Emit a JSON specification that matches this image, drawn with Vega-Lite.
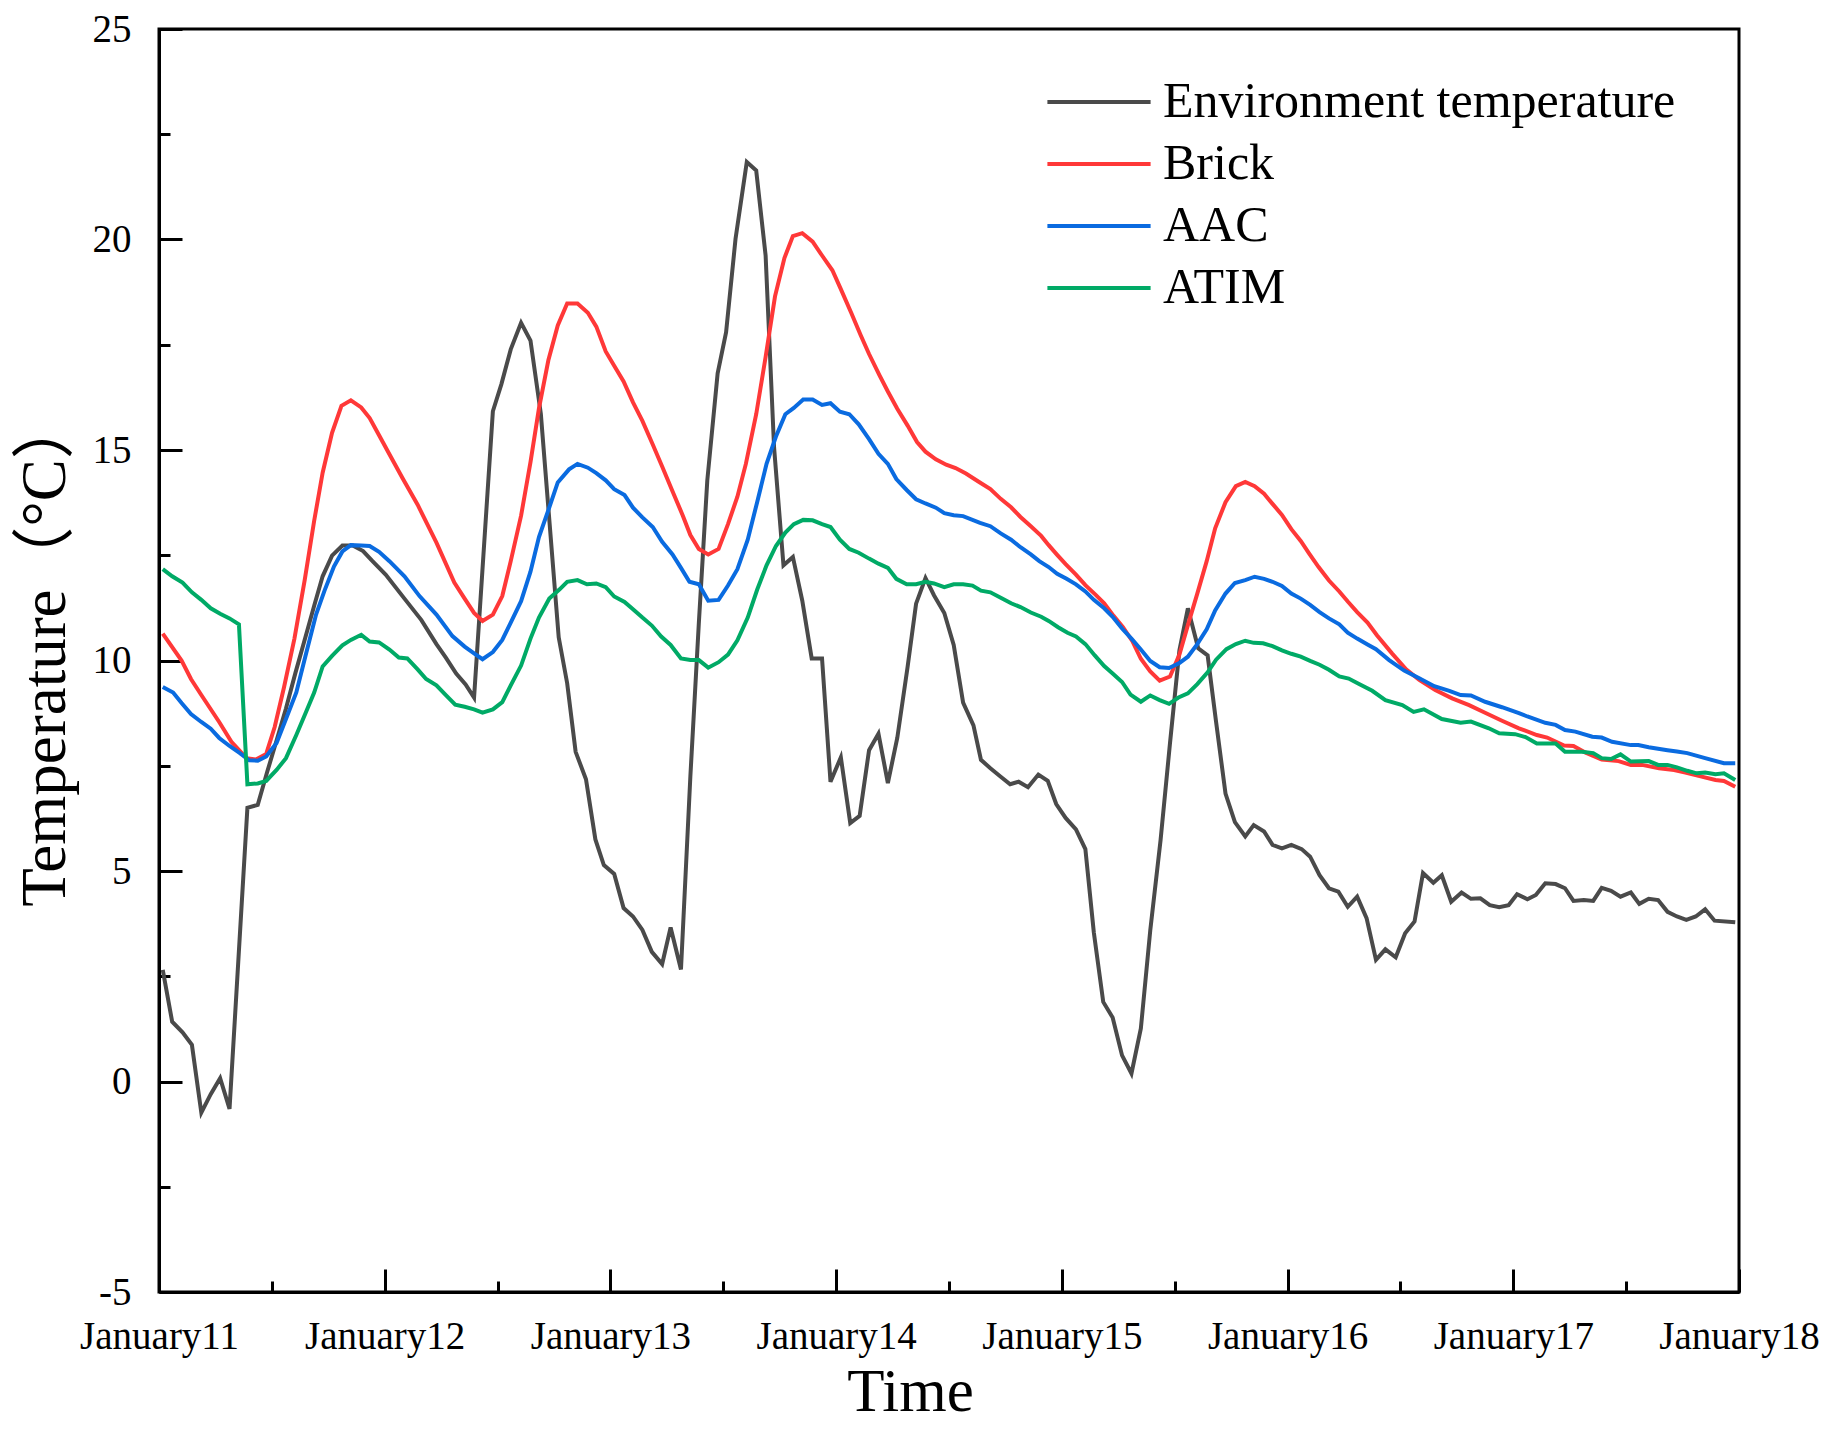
{
  "$schema": "https://vega.github.io/schema/vega-lite/v6.json",
  "width": 1580,
  "height": 1263,
  "autosize": {"type": "none"},
  "padding": {"left": 159, "top": 29, "right": 85, "bottom": 138},
  "background": "white",
  "config": {
    "view": {"stroke": "black", "strokeWidth": 3},
    "axis": {
      "grid": false,
      "domainColor": "black",
      "domainWidth": 3,
      "tickColor": "black",
      "tickWidth": 3,
      "labelColor": "black",
      "titleColor": "black",
      "labelFont": "Liberation Serif",
      "titleFont": "Liberation Serif, Noto Sans CJK SC",
      "titleFontWeight": "normal"
    }
  },
  "data": {
    "values": [
      {"series": "Environment temperature", "hour": 0.4, "temp": 2.65},
      {"series": "Environment temperature", "hour": 1.4, "temp": 1.42},
      {"series": "Environment temperature", "hour": 2.5, "temp": 1.17},
      {"series": "Environment temperature", "hour": 3.5, "temp": 0.87},
      {"series": "Environment temperature", "hour": 4.5, "temp": -0.74},
      {"series": "Environment temperature", "hour": 5.5, "temp": -0.3},
      {"series": "Environment temperature", "hour": 6.5, "temp": 0.08},
      {"series": "Environment temperature", "hour": 7.5, "temp": -0.65},
      {"series": "Environment temperature", "hour": 9.4, "temp": 6.5},
      {"series": "Environment temperature", "hour": 10.5, "temp": 6.57},
      {"series": "Environment temperature", "hour": 11.5, "temp": 7.35},
      {"series": "Environment temperature", "hour": 12.5, "temp": 8.1},
      {"series": "Environment temperature", "hour": 13.5, "temp": 8.86},
      {"series": "Environment temperature", "hour": 14.5, "temp": 9.7},
      {"series": "Environment temperature", "hour": 15.5, "temp": 10.5},
      {"series": "Environment temperature", "hour": 16.5, "temp": 11.3},
      {"series": "Environment temperature", "hour": 17.4, "temp": 12.0},
      {"series": "Environment temperature", "hour": 18.4, "temp": 12.49},
      {"series": "Environment temperature", "hour": 19.5, "temp": 12.73},
      {"series": "Environment temperature", "hour": 20.6, "temp": 12.73},
      {"series": "Environment temperature", "hour": 21.7, "temp": 12.6},
      {"series": "Environment temperature", "hour": 22.7, "temp": 12.36},
      {"series": "Environment temperature", "hour": 24.1, "temp": 12.04},
      {"series": "Environment temperature", "hour": 26.1, "temp": 11.47},
      {"series": "Environment temperature", "hour": 27.9, "temp": 10.96},
      {"series": "Environment temperature", "hour": 29.5, "temp": 10.39},
      {"series": "Environment temperature", "hour": 30.5, "temp": 10.07},
      {"series": "Environment temperature", "hour": 31.6, "temp": 9.69},
      {"series": "Environment temperature", "hour": 32.6, "temp": 9.43},
      {"series": "Environment temperature", "hour": 33.5, "temp": 9.12},
      {"series": "Environment temperature", "hour": 35.5, "temp": 15.92},
      {"series": "Environment temperature", "hour": 36.4, "temp": 16.56},
      {"series": "Environment temperature", "hour": 37.4, "temp": 17.39},
      {"series": "Environment temperature", "hour": 38.5, "temp": 18.02},
      {"series": "Environment temperature", "hour": 39.5, "temp": 17.6},
      {"series": "Environment temperature", "hour": 40.6, "temp": 15.86},
      {"series": "Environment temperature", "hour": 42.5, "temp": 10.55},
      {"series": "Environment temperature", "hour": 43.4, "temp": 9.46},
      {"series": "Environment temperature", "hour": 44.3, "temp": 7.83},
      {"series": "Environment temperature", "hour": 45.4, "temp": 7.18},
      {"series": "Environment temperature", "hour": 46.4, "temp": 5.75},
      {"series": "Environment temperature", "hour": 47.3, "temp": 5.14},
      {"series": "Environment temperature", "hour": 48.4, "temp": 4.93},
      {"series": "Environment temperature", "hour": 49.4, "temp": 4.12},
      {"series": "Environment temperature", "hour": 50.4, "temp": 3.92},
      {"series": "Environment temperature", "hour": 51.4, "temp": 3.6},
      {"series": "Environment temperature", "hour": 52.4, "temp": 3.08},
      {"series": "Environment temperature", "hour": 53.5, "temp": 2.79},
      {"series": "Environment temperature", "hour": 54.4, "temp": 3.66},
      {"series": "Environment temperature", "hour": 55.5, "temp": 2.66},
      {"series": "Environment temperature", "hour": 56.5, "temp": 7.25},
      {"series": "Environment temperature", "hour": 57.4, "temp": 10.89},
      {"series": "Environment temperature", "hour": 58.3, "temp": 14.28},
      {"series": "Environment temperature", "hour": 59.4, "temp": 16.82},
      {"series": "Environment temperature", "hour": 60.3, "temp": 17.8},
      {"series": "Environment temperature", "hour": 61.3, "temp": 20.01},
      {"series": "Environment temperature", "hour": 62.5, "temp": 21.84},
      {"series": "Environment temperature", "hour": 63.5, "temp": 21.64},
      {"series": "Environment temperature", "hour": 64.5, "temp": 19.62},
      {"series": "Environment temperature", "hour": 65.4, "temp": 15.06},
      {"series": "Environment temperature", "hour": 66.4, "temp": 12.26},
      {"series": "Environment temperature", "hour": 67.4, "temp": 12.46},
      {"series": "Environment temperature", "hour": 68.4, "temp": 11.42},
      {"series": "Environment temperature", "hour": 69.4, "temp": 10.05},
      {"series": "Environment temperature", "hour": 70.5, "temp": 10.05},
      {"series": "Environment temperature", "hour": 71.4, "temp": 7.12},
      {"series": "Environment temperature", "hour": 72.5, "temp": 7.7},
      {"series": "Environment temperature", "hour": 73.5, "temp": 6.14},
      {"series": "Environment temperature", "hour": 74.5, "temp": 6.31},
      {"series": "Environment temperature", "hour": 75.5, "temp": 7.87},
      {"series": "Environment temperature", "hour": 76.5, "temp": 8.26},
      {"series": "Environment temperature", "hour": 77.5, "temp": 7.09},
      {"series": "Environment temperature", "hour": 78.5, "temp": 8.16},
      {"series": "Environment temperature", "hour": 79.6, "temp": 9.85},
      {"series": "Environment temperature", "hour": 80.5, "temp": 11.35},
      {"series": "Environment temperature", "hour": 81.5, "temp": 11.96},
      {"series": "Environment temperature", "hour": 82.4, "temp": 11.55},
      {"series": "Environment temperature", "hour": 83.5, "temp": 11.13},
      {"series": "Environment temperature", "hour": 84.5, "temp": 10.37},
      {"series": "Environment temperature", "hour": 85.5, "temp": 9.0},
      {"series": "Environment temperature", "hour": 86.6, "temp": 8.46},
      {"series": "Environment temperature", "hour": 87.4, "temp": 7.64},
      {"series": "Environment temperature", "hour": 88.4, "temp": 7.44},
      {"series": "Environment temperature", "hour": 89.5, "temp": 7.24},
      {"series": "Environment temperature", "hour": 90.5, "temp": 7.06},
      {"series": "Environment temperature", "hour": 91.4, "temp": 7.12},
      {"series": "Environment temperature", "hour": 92.4, "temp": 6.99},
      {"series": "Environment temperature", "hour": 93.5, "temp": 7.29},
      {"series": "Environment temperature", "hour": 94.5, "temp": 7.14},
      {"series": "Environment temperature", "hour": 95.4, "temp": 6.59},
      {"series": "Environment temperature", "hour": 96.4, "temp": 6.26},
      {"series": "Environment temperature", "hour": 97.5, "temp": 5.99},
      {"series": "Environment temperature", "hour": 98.5, "temp": 5.52},
      {"series": "Environment temperature", "hour": 99.4, "temp": 3.54},
      {"series": "Environment temperature", "hour": 100.4, "temp": 1.89},
      {"series": "Environment temperature", "hour": 101.4, "temp": 1.52},
      {"series": "Environment temperature", "hour": 102.4, "temp": 0.62},
      {"series": "Environment temperature", "hour": 103.4, "temp": 0.19},
      {"series": "Environment temperature", "hour": 104.4, "temp": 1.26},
      {"series": "Environment temperature", "hour": 105.4, "temp": 3.59},
      {"series": "Environment temperature", "hour": 106.5, "temp": 5.74},
      {"series": "Environment temperature", "hour": 107.5, "temp": 8.04},
      {"series": "Environment temperature", "hour": 108.5, "temp": 10.24},
      {"series": "Environment temperature", "hour": 109.4, "temp": 11.24},
      {"series": "Environment temperature", "hour": 110.5, "temp": 10.29},
      {"series": "Environment temperature", "hour": 111.5, "temp": 10.12},
      {"series": "Environment temperature", "hour": 112.4, "temp": 8.54},
      {"series": "Environment temperature", "hour": 113.4, "temp": 6.84},
      {"series": "Environment temperature", "hour": 114.4, "temp": 6.16},
      {"series": "Environment temperature", "hour": 115.5, "temp": 5.82},
      {"series": "Environment temperature", "hour": 116.4, "temp": 6.09},
      {"series": "Environment temperature", "hour": 117.5, "temp": 5.94},
      {"series": "Environment temperature", "hour": 118.4, "temp": 5.62},
      {"series": "Environment temperature", "hour": 119.4, "temp": 5.54},
      {"series": "Environment temperature", "hour": 120.4, "temp": 5.62},
      {"series": "Environment temperature", "hour": 121.5, "temp": 5.52},
      {"series": "Environment temperature", "hour": 122.4, "temp": 5.34},
      {"series": "Environment temperature", "hour": 123.4, "temp": 4.9},
      {"series": "Environment temperature", "hour": 124.4, "temp": 4.59},
      {"series": "Environment temperature", "hour": 125.4, "temp": 4.51},
      {"series": "Environment temperature", "hour": 126.4, "temp": 4.15},
      {"series": "Environment temperature", "hour": 127.4, "temp": 4.39},
      {"series": "Environment temperature", "hour": 128.4, "temp": 3.88},
      {"series": "Environment temperature", "hour": 129.4, "temp": 2.89},
      {"series": "Environment temperature", "hour": 130.4, "temp": 3.14},
      {"series": "Environment temperature", "hour": 131.5, "temp": 2.95},
      {"series": "Environment temperature", "hour": 132.5, "temp": 3.52},
      {"series": "Environment temperature", "hour": 133.5, "temp": 3.8},
      {"series": "Environment temperature", "hour": 134.4, "temp": 4.95},
      {"series": "Environment temperature", "hour": 135.5, "temp": 4.72},
      {"series": "Environment temperature", "hour": 136.4, "temp": 4.9},
      {"series": "Environment temperature", "hour": 137.4, "temp": 4.27},
      {"series": "Environment temperature", "hour": 138.5, "temp": 4.49},
      {"series": "Environment temperature", "hour": 139.5, "temp": 4.34},
      {"series": "Environment temperature", "hour": 140.5, "temp": 4.35},
      {"series": "Environment temperature", "hour": 141.5, "temp": 4.19},
      {"series": "Environment temperature", "hour": 142.5, "temp": 4.14},
      {"series": "Environment temperature", "hour": 143.5, "temp": 4.19},
      {"series": "Environment temperature", "hour": 144.4, "temp": 4.45},
      {"series": "Environment temperature", "hour": 145.5, "temp": 4.33},
      {"series": "Environment temperature", "hour": 146.4, "temp": 4.43},
      {"series": "Environment temperature", "hour": 147.4, "temp": 4.71},
      {"series": "Environment temperature", "hour": 148.5, "temp": 4.69},
      {"series": "Environment temperature", "hour": 149.5, "temp": 4.59},
      {"series": "Environment temperature", "hour": 150.4, "temp": 4.29},
      {"series": "Environment temperature", "hour": 151.5, "temp": 4.31},
      {"series": "Environment temperature", "hour": 152.5, "temp": 4.29},
      {"series": "Environment temperature", "hour": 153.4, "temp": 4.6},
      {"series": "Environment temperature", "hour": 154.4, "temp": 4.53},
      {"series": "Environment temperature", "hour": 155.4, "temp": 4.39},
      {"series": "Environment temperature", "hour": 156.5, "temp": 4.49},
      {"series": "Environment temperature", "hour": 157.4, "temp": 4.22},
      {"series": "Environment temperature", "hour": 158.4, "temp": 4.34},
      {"series": "Environment temperature", "hour": 159.4, "temp": 4.31},
      {"series": "Environment temperature", "hour": 160.4, "temp": 4.03},
      {"series": "Environment temperature", "hour": 161.4, "temp": 3.92},
      {"series": "Environment temperature", "hour": 162.4, "temp": 3.84},
      {"series": "Environment temperature", "hour": 163.4, "temp": 3.92},
      {"series": "Environment temperature", "hour": 164.4, "temp": 4.09},
      {"series": "Environment temperature", "hour": 165.4, "temp": 3.82},
      {"series": "Environment temperature", "hour": 167.6, "temp": 3.78},

      {"series": "Brick", "hour": 0.4, "temp": 10.64},
      {"series": "Brick", "hour": 2.4, "temp": 10.0},
      {"series": "Brick", "hour": 3.4, "temp": 9.56},
      {"series": "Brick", "hour": 4.5, "temp": 9.18},
      {"series": "Brick", "hour": 6.4, "temp": 8.54},
      {"series": "Brick", "hour": 7.7, "temp": 8.07},
      {"series": "Brick", "hour": 9.3, "temp": 7.68},
      {"series": "Brick", "hour": 10.3, "temp": 7.65},
      {"series": "Brick", "hour": 11.4, "temp": 7.78},
      {"series": "Brick", "hour": 12.3, "temp": 8.42},
      {"series": "Brick", "hour": 13.3, "temp": 9.37},
      {"series": "Brick", "hour": 14.4, "temp": 10.52},
      {"series": "Brick", "hour": 15.5, "temp": 11.92},
      {"series": "Brick", "hour": 16.5, "temp": 13.32},
      {"series": "Brick", "hour": 17.4, "temp": 14.46},
      {"series": "Brick", "hour": 18.4, "temp": 15.41},
      {"series": "Brick", "hour": 19.4, "temp": 16.05},
      {"series": "Brick", "hour": 20.4, "temp": 16.18},
      {"series": "Brick", "hour": 21.5, "temp": 16.01},
      {"series": "Brick", "hour": 22.4, "temp": 15.76},
      {"series": "Brick", "hour": 23.4, "temp": 15.35},
      {"series": "Brick", "hour": 24.5, "temp": 14.9},
      {"series": "Brick", "hour": 25.9, "temp": 14.33},
      {"series": "Brick", "hour": 27.5, "temp": 13.7},
      {"series": "Brick", "hour": 29.5, "temp": 12.8},
      {"series": "Brick", "hour": 31.4, "temp": 11.85},
      {"series": "Brick", "hour": 32.5, "temp": 11.47},
      {"series": "Brick", "hour": 33.5, "temp": 11.13},
      {"series": "Brick", "hour": 34.4, "temp": 10.94},
      {"series": "Brick", "hour": 35.5, "temp": 11.09},
      {"series": "Brick", "hour": 36.5, "temp": 11.53},
      {"series": "Brick", "hour": 37.4, "temp": 12.36},
      {"series": "Brick", "hour": 38.5, "temp": 13.44},
      {"series": "Brick", "hour": 39.5, "temp": 14.71},
      {"series": "Brick", "hour": 40.4, "temp": 15.99},
      {"series": "Brick", "hour": 41.4, "temp": 17.13},
      {"series": "Brick", "hour": 42.4, "temp": 17.96},
      {"series": "Brick", "hour": 43.4, "temp": 18.48},
      {"series": "Brick", "hour": 44.5, "temp": 18.48},
      {"series": "Brick", "hour": 45.6, "temp": 18.26},
      {"series": "Brick", "hour": 46.5, "temp": 17.93},
      {"series": "Brick", "hour": 47.5, "temp": 17.34},
      {"series": "Brick", "hour": 48.4, "temp": 17.0},
      {"series": "Brick", "hour": 49.4, "temp": 16.63},
      {"series": "Brick", "hour": 50.4, "temp": 16.13},
      {"series": "Brick", "hour": 51.4, "temp": 15.69},
      {"series": "Brick", "hour": 52.5, "temp": 15.13},
      {"series": "Brick", "hour": 53.5, "temp": 14.61},
      {"series": "Brick", "hour": 54.6, "temp": 14.02},
      {"series": "Brick", "hour": 55.7, "temp": 13.44},
      {"series": "Brick", "hour": 56.5, "temp": 12.98},
      {"series": "Brick", "hour": 57.4, "temp": 12.65},
      {"series": "Brick", "hour": 58.4, "temp": 12.52},
      {"series": "Brick", "hour": 59.5, "temp": 12.65},
      {"series": "Brick", "hour": 60.5, "temp": 13.24},
      {"series": "Brick", "hour": 61.5, "temp": 13.89},
      {"series": "Brick", "hour": 62.4, "temp": 14.67},
      {"series": "Brick", "hour": 63.5, "temp": 15.85},
      {"series": "Brick", "hour": 64.5, "temp": 17.21},
      {"series": "Brick", "hour": 65.5, "temp": 18.65},
      {"series": "Brick", "hour": 66.5, "temp": 19.56},
      {"series": "Brick", "hour": 67.4, "temp": 20.08},
      {"series": "Brick", "hour": 68.4, "temp": 20.15},
      {"series": "Brick", "hour": 69.5, "temp": 19.95},
      {"series": "Brick", "hour": 70.5, "temp": 19.62},
      {"series": "Brick", "hour": 71.6, "temp": 19.27},
      {"series": "Brick", "hour": 72.5, "temp": 18.82},
      {"series": "Brick", "hour": 73.6, "temp": 18.26},
      {"series": "Brick", "hour": 74.6, "temp": 17.73},
      {"series": "Brick", "hour": 75.5, "temp": 17.28},
      {"series": "Brick", "hour": 76.6, "temp": 16.78},
      {"series": "Brick", "hour": 77.5, "temp": 16.39},
      {"series": "Brick", "hour": 78.5, "temp": 15.98},
      {"series": "Brick", "hour": 79.6, "temp": 15.58},
      {"series": "Brick", "hour": 80.6, "temp": 15.19},
      {"series": "Brick", "hour": 81.5, "temp": 14.96},
      {"series": "Brick", "hour": 82.6, "temp": 14.78},
      {"series": "Brick", "hour": 83.7, "temp": 14.65},
      {"series": "Brick", "hour": 84.7, "temp": 14.57},
      {"series": "Brick", "hour": 85.8, "temp": 14.44},
      {"series": "Brick", "hour": 87.2, "temp": 14.24},
      {"series": "Brick", "hour": 88.4, "temp": 14.07},
      {"series": "Brick", "hour": 89.5, "temp": 13.84},
      {"series": "Brick", "hour": 90.6, "temp": 13.64},
      {"series": "Brick", "hour": 91.6, "temp": 13.41},
      {"series": "Brick", "hour": 92.7, "temp": 13.19},
      {"series": "Brick", "hour": 93.8, "temp": 12.96},
      {"series": "Brick", "hour": 94.6, "temp": 12.74},
      {"series": "Brick", "hour": 95.5, "temp": 12.51},
      {"series": "Brick", "hour": 96.4, "temp": 12.29},
      {"series": "Brick", "hour": 97.5, "temp": 12.04},
      {"series": "Brick", "hour": 98.5, "temp": 11.79},
      {"series": "Brick", "hour": 99.6, "temp": 11.56},
      {"series": "Brick", "hour": 100.5, "temp": 11.36},
      {"series": "Brick", "hour": 101.5, "temp": 11.06},
      {"series": "Brick", "hour": 102.5, "temp": 10.79},
      {"series": "Brick", "hour": 103.5, "temp": 10.46},
      {"series": "Brick", "hour": 104.4, "temp": 10.04},
      {"series": "Brick", "hour": 105.4, "temp": 9.74},
      {"series": "Brick", "hour": 106.4, "temp": 9.52},
      {"series": "Brick", "hour": 107.5, "temp": 9.62},
      {"series": "Brick", "hour": 108.5, "temp": 10.14},
      {"series": "Brick", "hour": 109.4, "temp": 10.84},
      {"series": "Brick", "hour": 110.4, "temp": 11.59},
      {"series": "Brick", "hour": 111.4, "temp": 12.36},
      {"series": "Brick", "hour": 112.3, "temp": 13.14},
      {"series": "Brick", "hour": 113.4, "temp": 13.76},
      {"series": "Brick", "hour": 114.5, "temp": 14.14},
      {"series": "Brick", "hour": 115.5, "temp": 14.24},
      {"series": "Brick", "hour": 116.5, "temp": 14.14},
      {"series": "Brick", "hour": 117.5, "temp": 13.96},
      {"series": "Brick", "hour": 118.4, "temp": 13.72},
      {"series": "Brick", "hour": 119.4, "temp": 13.46},
      {"series": "Brick", "hour": 120.4, "temp": 13.12},
      {"series": "Brick", "hour": 121.4, "temp": 12.84},
      {"series": "Brick", "hour": 122.3, "temp": 12.54},
      {"series": "Brick", "hour": 123.3, "temp": 12.22},
      {"series": "Brick", "hour": 124.4, "temp": 11.9},
      {"series": "Brick", "hour": 125.5, "temp": 11.64},
      {"series": "Brick", "hour": 126.4, "temp": 11.4},
      {"series": "Brick", "hour": 127.4, "temp": 11.15},
      {"series": "Brick", "hour": 128.5, "temp": 10.9},
      {"series": "Brick", "hour": 129.5, "temp": 10.6},
      {"series": "Brick", "hour": 131.1, "temp": 10.17},
      {"series": "Brick", "hour": 132.6, "temp": 9.79},
      {"series": "Brick", "hour": 134.0, "temp": 9.54},
      {"series": "Brick", "hour": 135.7, "temp": 9.3},
      {"series": "Brick", "hour": 137.5, "temp": 9.1},
      {"series": "Brick", "hour": 139.3, "temp": 8.94},
      {"series": "Brick", "hour": 141.0, "temp": 8.76},
      {"series": "Brick", "hour": 142.8, "temp": 8.57},
      {"series": "Brick", "hour": 144.6, "temp": 8.39},
      {"series": "Brick", "hour": 146.5, "temp": 8.23},
      {"series": "Brick", "hour": 147.6, "temp": 8.17},
      {"series": "Brick", "hour": 149.4, "temp": 7.98},
      {"series": "Brick", "hour": 150.4, "temp": 7.97},
      {"series": "Brick", "hour": 151.7, "temp": 7.81},
      {"series": "Brick", "hour": 153.4, "temp": 7.65},
      {"series": "Brick", "hour": 155.2, "temp": 7.61},
      {"series": "Brick", "hour": 156.5, "temp": 7.52},
      {"series": "Brick", "hour": 157.7, "temp": 7.52},
      {"series": "Brick", "hour": 159.5, "temp": 7.44},
      {"series": "Brick", "hour": 161.1, "temp": 7.4},
      {"series": "Brick", "hour": 162.3, "temp": 7.34},
      {"series": "Brick", "hour": 163.7, "temp": 7.26},
      {"series": "Brick", "hour": 165.5, "temp": 7.16},
      {"series": "Brick", "hour": 166.4, "temp": 7.14},
      {"series": "Brick", "hour": 167.6, "temp": 7.0},

      {"series": "AAC", "hour": 0.4, "temp": 9.37},
      {"series": "AAC", "hour": 1.5, "temp": 9.24},
      {"series": "AAC", "hour": 2.4, "temp": 8.99},
      {"series": "AAC", "hour": 3.4, "temp": 8.73},
      {"series": "AAC", "hour": 4.5, "temp": 8.54},
      {"series": "AAC", "hour": 5.5, "temp": 8.38},
      {"series": "AAC", "hour": 6.4, "temp": 8.16},
      {"series": "AAC", "hour": 7.5, "temp": 7.97},
      {"series": "AAC", "hour": 8.6, "temp": 7.8},
      {"series": "AAC", "hour": 9.6, "temp": 7.63},
      {"series": "AAC", "hour": 10.5, "temp": 7.62},
      {"series": "AAC", "hour": 11.4, "temp": 7.72},
      {"series": "AAC", "hour": 12.5, "temp": 8.04},
      {"series": "AAC", "hour": 13.5, "temp": 8.61},
      {"series": "AAC", "hour": 14.6, "temp": 9.24},
      {"series": "AAC", "hour": 15.6, "temp": 10.13},
      {"series": "AAC", "hour": 16.7, "temp": 11.09},
      {"series": "AAC", "hour": 17.6, "temp": 11.66},
      {"series": "AAC", "hour": 18.6, "temp": 12.23},
      {"series": "AAC", "hour": 19.5, "temp": 12.59},
      {"series": "AAC", "hour": 20.4, "temp": 12.74},
      {"series": "AAC", "hour": 21.5, "temp": 12.73},
      {"series": "AAC", "hour": 22.4, "temp": 12.72},
      {"series": "AAC", "hour": 23.4, "temp": 12.58},
      {"series": "AAC", "hour": 24.5, "temp": 12.36},
      {"series": "AAC", "hour": 26.1, "temp": 12.0},
      {"series": "AAC", "hour": 27.7, "temp": 11.53},
      {"series": "AAC", "hour": 29.5, "temp": 11.09},
      {"series": "AAC", "hour": 31.2, "temp": 10.58},
      {"series": "AAC", "hour": 32.5, "temp": 10.33},
      {"series": "AAC", "hour": 33.5, "temp": 10.17},
      {"series": "AAC", "hour": 34.4, "temp": 10.03},
      {"series": "AAC", "hour": 35.5, "temp": 10.2},
      {"series": "AAC", "hour": 36.5, "temp": 10.49},
      {"series": "AAC", "hour": 37.4, "temp": 10.9},
      {"series": "AAC", "hour": 38.5, "temp": 11.41},
      {"series": "AAC", "hour": 39.5, "temp": 12.11},
      {"series": "AAC", "hour": 40.4, "temp": 12.93},
      {"series": "AAC", "hour": 41.4, "temp": 13.57},
      {"series": "AAC", "hour": 42.4, "temp": 14.23},
      {"series": "AAC", "hour": 43.6, "temp": 14.54},
      {"series": "AAC", "hour": 44.5, "temp": 14.67},
      {"series": "AAC", "hour": 45.6, "temp": 14.58},
      {"series": "AAC", "hour": 46.5, "temp": 14.45},
      {"series": "AAC", "hour": 47.5, "temp": 14.28},
      {"series": "AAC", "hour": 48.4, "temp": 14.07},
      {"series": "AAC", "hour": 49.5, "temp": 13.93},
      {"series": "AAC", "hour": 50.4, "temp": 13.63},
      {"series": "AAC", "hour": 51.4, "temp": 13.4},
      {"series": "AAC", "hour": 52.5, "temp": 13.17},
      {"series": "AAC", "hour": 53.5, "temp": 12.82},
      {"series": "AAC", "hour": 54.6, "temp": 12.52},
      {"series": "AAC", "hour": 55.5, "temp": 12.2},
      {"series": "AAC", "hour": 56.4, "temp": 11.87},
      {"series": "AAC", "hour": 57.4, "temp": 11.81},
      {"series": "AAC", "hour": 58.4, "temp": 11.42},
      {"series": "AAC", "hour": 59.5, "temp": 11.44},
      {"series": "AAC", "hour": 60.5, "temp": 11.78},
      {"series": "AAC", "hour": 61.5, "temp": 12.17},
      {"series": "AAC", "hour": 62.6, "temp": 12.87},
      {"series": "AAC", "hour": 63.6, "temp": 13.76},
      {"series": "AAC", "hour": 64.6, "temp": 14.67},
      {"series": "AAC", "hour": 65.6, "temp": 15.32},
      {"series": "AAC", "hour": 66.6, "temp": 15.85},
      {"series": "AAC", "hour": 67.5, "temp": 16.0},
      {"series": "AAC", "hour": 68.5, "temp": 16.2},
      {"series": "AAC", "hour": 69.5, "temp": 16.2},
      {"series": "AAC", "hour": 70.5, "temp": 16.07},
      {"series": "AAC", "hour": 71.4, "temp": 16.11},
      {"series": "AAC", "hour": 72.4, "temp": 15.91},
      {"series": "AAC", "hour": 73.4, "temp": 15.85},
      {"series": "AAC", "hour": 74.4, "temp": 15.61},
      {"series": "AAC", "hour": 75.5, "temp": 15.26},
      {"series": "AAC", "hour": 76.5, "temp": 14.91},
      {"series": "AAC", "hour": 77.5, "temp": 14.67},
      {"series": "AAC", "hour": 78.4, "temp": 14.31},
      {"series": "AAC", "hour": 79.5, "temp": 14.05},
      {"series": "AAC", "hour": 80.5, "temp": 13.83},
      {"series": "AAC", "hour": 81.5, "temp": 13.73},
      {"series": "AAC", "hour": 82.6, "temp": 13.63},
      {"series": "AAC", "hour": 83.5, "temp": 13.5},
      {"series": "AAC", "hour": 84.5, "temp": 13.45},
      {"series": "AAC", "hour": 85.5, "temp": 13.43},
      {"series": "AAC", "hour": 87.3, "temp": 13.27},
      {"series": "AAC", "hour": 88.4, "temp": 13.19},
      {"series": "AAC", "hour": 89.5, "temp": 13.02},
      {"series": "AAC", "hour": 90.6, "temp": 12.87},
      {"series": "AAC", "hour": 91.6, "temp": 12.69},
      {"series": "AAC", "hour": 92.7, "temp": 12.52},
      {"series": "AAC", "hour": 93.6, "temp": 12.36},
      {"series": "AAC", "hour": 94.6, "temp": 12.22},
      {"series": "AAC", "hour": 95.5, "temp": 12.06},
      {"series": "AAC", "hour": 96.5, "temp": 11.94},
      {"series": "AAC", "hour": 97.5, "temp": 11.81},
      {"series": "AAC", "hour": 98.5, "temp": 11.64},
      {"series": "AAC", "hour": 99.4, "temp": 11.44},
      {"series": "AAC", "hour": 100.5, "temp": 11.24},
      {"series": "AAC", "hour": 101.4, "temp": 11.04},
      {"series": "AAC", "hour": 102.4, "temp": 10.76},
      {"series": "AAC", "hour": 103.4, "temp": 10.52},
      {"series": "AAC", "hour": 104.4, "temp": 10.26},
      {"series": "AAC", "hour": 105.4, "temp": 9.99},
      {"series": "AAC", "hour": 106.4, "temp": 9.84},
      {"series": "AAC", "hour": 107.4, "temp": 9.82},
      {"series": "AAC", "hour": 108.5, "temp": 9.94},
      {"series": "AAC", "hour": 109.4, "temp": 10.09},
      {"series": "AAC", "hour": 110.4, "temp": 10.39},
      {"series": "AAC", "hour": 111.4, "temp": 10.74},
      {"series": "AAC", "hour": 112.3, "temp": 11.19},
      {"series": "AAC", "hour": 113.4, "temp": 11.59},
      {"series": "AAC", "hour": 114.4, "temp": 11.84},
      {"series": "AAC", "hour": 115.5, "temp": 11.91},
      {"series": "AAC", "hour": 116.5, "temp": 11.99},
      {"series": "AAC", "hour": 117.5, "temp": 11.94},
      {"series": "AAC", "hour": 118.4, "temp": 11.87},
      {"series": "AAC", "hour": 119.4, "temp": 11.77},
      {"series": "AAC", "hour": 120.4, "temp": 11.59},
      {"series": "AAC", "hour": 121.4, "temp": 11.47},
      {"series": "AAC", "hour": 122.4, "temp": 11.32},
      {"series": "AAC", "hour": 123.4, "temp": 11.15},
      {"series": "AAC", "hour": 124.4, "temp": 11.0},
      {"series": "AAC", "hour": 125.5, "temp": 10.86},
      {"series": "AAC", "hour": 126.4, "temp": 10.66},
      {"series": "AAC", "hour": 127.4, "temp": 10.52},
      {"series": "AAC", "hour": 128.5, "temp": 10.38},
      {"series": "AAC", "hour": 129.4, "temp": 10.27},
      {"series": "AAC", "hour": 130.8, "temp": 10.01},
      {"series": "AAC", "hour": 132.4, "temp": 9.76},
      {"series": "AAC", "hour": 134.0, "temp": 9.58},
      {"series": "AAC", "hour": 135.6, "temp": 9.39},
      {"series": "AAC", "hour": 137.2, "temp": 9.28},
      {"series": "AAC", "hour": 138.4, "temp": 9.18},
      {"series": "AAC", "hour": 139.5, "temp": 9.17},
      {"series": "AAC", "hour": 141.0, "temp": 9.02},
      {"series": "AAC", "hour": 142.8, "temp": 8.89},
      {"series": "AAC", "hour": 144.6, "temp": 8.75},
      {"series": "AAC", "hour": 145.5, "temp": 8.67},
      {"series": "AAC", "hour": 147.4, "temp": 8.52},
      {"series": "AAC", "hour": 148.5, "temp": 8.47},
      {"series": "AAC", "hour": 149.5, "temp": 8.35},
      {"series": "AAC", "hour": 150.6, "temp": 8.31},
      {"series": "AAC", "hour": 152.4, "temp": 8.19},
      {"series": "AAC", "hour": 153.4, "temp": 8.17},
      {"series": "AAC", "hour": 154.5, "temp": 8.07},
      {"series": "AAC", "hour": 156.5, "temp": 7.99},
      {"series": "AAC", "hour": 157.3, "temp": 7.99},
      {"series": "AAC", "hour": 158.4, "temp": 7.94},
      {"series": "AAC", "hour": 160.4, "temp": 7.87},
      {"series": "AAC", "hour": 161.4, "temp": 7.84},
      {"series": "AAC", "hour": 162.5, "temp": 7.8},
      {"series": "AAC", "hour": 164.4, "temp": 7.68},
      {"series": "AAC", "hour": 166.4, "temp": 7.56},
      {"series": "AAC", "hour": 167.6, "temp": 7.56},

      {"series": "ATIM", "hour": 0.4, "temp": 12.17},
      {"series": "ATIM", "hour": 1.4, "temp": 12.0},
      {"series": "ATIM", "hour": 2.5, "temp": 11.85},
      {"series": "ATIM", "hour": 3.5, "temp": 11.62},
      {"series": "ATIM", "hour": 4.5, "temp": 11.44},
      {"series": "ATIM", "hour": 5.5, "temp": 11.24},
      {"series": "ATIM", "hour": 6.5, "temp": 11.11},
      {"series": "ATIM", "hour": 7.5, "temp": 11.0},
      {"series": "ATIM", "hour": 8.5, "temp": 10.86},
      {"series": "ATIM", "hour": 9.4, "temp": 7.06},
      {"series": "ATIM", "hour": 10.5, "temp": 7.08},
      {"series": "ATIM", "hour": 11.4, "temp": 7.14},
      {"series": "ATIM", "hour": 12.5, "temp": 7.4},
      {"series": "ATIM", "hour": 13.5, "temp": 7.68},
      {"series": "ATIM", "hour": 14.6, "temp": 8.23},
      {"series": "ATIM", "hour": 15.6, "temp": 8.76},
      {"series": "ATIM", "hour": 16.5, "temp": 9.24},
      {"series": "ATIM", "hour": 17.4, "temp": 9.86},
      {"series": "ATIM", "hour": 18.4, "temp": 10.11},
      {"series": "ATIM", "hour": 19.5, "temp": 10.36},
      {"series": "ATIM", "hour": 20.4, "temp": 10.49},
      {"series": "ATIM", "hour": 21.5, "temp": 10.61},
      {"series": "ATIM", "hour": 22.4, "temp": 10.45},
      {"series": "ATIM", "hour": 23.4, "temp": 10.43},
      {"series": "ATIM", "hour": 24.5, "temp": 10.26},
      {"series": "ATIM", "hour": 25.5, "temp": 10.07},
      {"series": "ATIM", "hour": 26.4, "temp": 10.05},
      {"series": "ATIM", "hour": 27.5, "temp": 9.79},
      {"series": "ATIM", "hour": 28.4, "temp": 9.56},
      {"series": "ATIM", "hour": 29.5, "temp": 9.41},
      {"series": "ATIM", "hour": 30.5, "temp": 9.18},
      {"series": "ATIM", "hour": 31.5, "temp": 8.95},
      {"series": "ATIM", "hour": 32.5, "temp": 8.9},
      {"series": "ATIM", "hour": 33.5, "temp": 8.84},
      {"series": "ATIM", "hour": 34.4, "temp": 8.76},
      {"series": "ATIM", "hour": 35.5, "temp": 8.84},
      {"series": "ATIM", "hour": 36.5, "temp": 9.01},
      {"series": "ATIM", "hour": 37.4, "temp": 9.41},
      {"series": "ATIM", "hour": 38.5, "temp": 9.88},
      {"series": "ATIM", "hour": 39.5, "temp": 10.52},
      {"series": "ATIM", "hour": 40.4, "temp": 11.02},
      {"series": "ATIM", "hour": 41.5, "temp": 11.47},
      {"series": "ATIM", "hour": 42.6, "temp": 11.69},
      {"series": "ATIM", "hour": 43.4, "temp": 11.87},
      {"series": "ATIM", "hour": 44.5, "temp": 11.91},
      {"series": "ATIM", "hour": 45.5, "temp": 11.81},
      {"series": "ATIM", "hour": 46.5, "temp": 11.83},
      {"series": "ATIM", "hour": 47.5, "temp": 11.74},
      {"series": "ATIM", "hour": 48.4, "temp": 11.52},
      {"series": "ATIM", "hour": 49.5, "temp": 11.39},
      {"series": "ATIM", "hour": 50.4, "temp": 11.22},
      {"series": "ATIM", "hour": 51.4, "temp": 11.02},
      {"series": "ATIM", "hour": 52.4, "temp": 10.83},
      {"series": "ATIM", "hour": 53.4, "temp": 10.57},
      {"series": "ATIM", "hour": 54.4, "temp": 10.37},
      {"series": "ATIM", "hour": 55.5, "temp": 10.05},
      {"series": "ATIM", "hour": 56.5, "temp": 10.01},
      {"series": "ATIM", "hour": 57.4, "temp": 10.01},
      {"series": "ATIM", "hour": 58.4, "temp": 9.83},
      {"series": "ATIM", "hour": 59.5, "temp": 9.96},
      {"series": "ATIM", "hour": 60.5, "temp": 10.14},
      {"series": "ATIM", "hour": 61.5, "temp": 10.48},
      {"series": "ATIM", "hour": 62.6, "temp": 11.02},
      {"series": "ATIM", "hour": 63.6, "temp": 11.68},
      {"series": "ATIM", "hour": 64.6, "temp": 12.26},
      {"series": "ATIM", "hour": 65.6, "temp": 12.72},
      {"series": "ATIM", "hour": 66.6, "temp": 13.04},
      {"series": "ATIM", "hour": 67.5, "temp": 13.24},
      {"series": "ATIM", "hour": 68.5, "temp": 13.34},
      {"series": "ATIM", "hour": 69.5, "temp": 13.33},
      {"series": "ATIM", "hour": 70.5, "temp": 13.24},
      {"series": "ATIM", "hour": 71.4, "temp": 13.17},
      {"series": "ATIM", "hour": 72.4, "temp": 12.87},
      {"series": "ATIM", "hour": 73.4, "temp": 12.65},
      {"series": "ATIM", "hour": 74.4, "temp": 12.56},
      {"series": "ATIM", "hour": 75.5, "temp": 12.42},
      {"series": "ATIM", "hour": 76.5, "temp": 12.3},
      {"series": "ATIM", "hour": 77.5, "temp": 12.2},
      {"series": "ATIM", "hour": 78.4, "temp": 11.94},
      {"series": "ATIM", "hour": 79.5, "temp": 11.81},
      {"series": "ATIM", "hour": 80.5, "temp": 11.81},
      {"series": "ATIM", "hour": 81.5, "temp": 11.87},
      {"series": "ATIM", "hour": 82.4, "temp": 11.83},
      {"series": "ATIM", "hour": 83.5, "temp": 11.74},
      {"series": "ATIM", "hour": 84.5, "temp": 11.81},
      {"series": "ATIM", "hour": 85.5, "temp": 11.81},
      {"series": "ATIM", "hour": 86.5, "temp": 11.78},
      {"series": "ATIM", "hour": 87.4, "temp": 11.66},
      {"series": "ATIM", "hour": 88.4, "temp": 11.62},
      {"series": "ATIM", "hour": 89.5, "temp": 11.49},
      {"series": "ATIM", "hour": 90.6, "temp": 11.36},
      {"series": "ATIM", "hour": 91.6, "temp": 11.27},
      {"series": "ATIM", "hour": 92.7, "temp": 11.14},
      {"series": "ATIM", "hour": 93.8, "temp": 11.04},
      {"series": "ATIM", "hour": 94.6, "temp": 10.94},
      {"series": "ATIM", "hour": 95.6, "temp": 10.79},
      {"series": "ATIM", "hour": 96.6, "temp": 10.66},
      {"series": "ATIM", "hour": 97.5, "temp": 10.57},
      {"series": "ATIM", "hour": 98.5, "temp": 10.39},
      {"series": "ATIM", "hour": 99.5, "temp": 10.12},
      {"series": "ATIM", "hour": 100.5, "temp": 9.87},
      {"series": "ATIM", "hour": 101.4, "temp": 9.69},
      {"series": "ATIM", "hour": 102.4, "temp": 9.49},
      {"series": "ATIM", "hour": 103.3, "temp": 9.19},
      {"series": "ATIM", "hour": 104.4, "temp": 9.02},
      {"series": "ATIM", "hour": 105.4, "temp": 9.17},
      {"series": "ATIM", "hour": 106.4, "temp": 9.06},
      {"series": "ATIM", "hour": 107.4, "temp": 8.97},
      {"series": "ATIM", "hour": 108.4, "temp": 9.12},
      {"series": "ATIM", "hour": 109.4, "temp": 9.22},
      {"series": "ATIM", "hour": 110.4, "temp": 9.44},
      {"series": "ATIM", "hour": 111.5, "temp": 9.72},
      {"series": "ATIM", "hour": 112.4, "temp": 10.02},
      {"series": "ATIM", "hour": 113.5, "temp": 10.27},
      {"series": "ATIM", "hour": 114.5, "temp": 10.39},
      {"series": "ATIM", "hour": 115.5, "temp": 10.47},
      {"series": "ATIM", "hour": 116.4, "temp": 10.42},
      {"series": "ATIM", "hour": 117.4, "temp": 10.41},
      {"series": "ATIM", "hour": 118.4, "temp": 10.34},
      {"series": "ATIM", "hour": 119.4, "temp": 10.24},
      {"series": "ATIM", "hour": 120.4, "temp": 10.16},
      {"series": "ATIM", "hour": 121.4, "temp": 10.09},
      {"series": "ATIM", "hour": 122.4, "temp": 9.99},
      {"series": "ATIM", "hour": 123.4, "temp": 9.9},
      {"series": "ATIM", "hour": 124.4, "temp": 9.78},
      {"series": "ATIM", "hour": 125.5, "temp": 9.62},
      {"series": "ATIM", "hour": 126.5, "temp": 9.57},
      {"series": "ATIM", "hour": 127.6, "temp": 9.44},
      {"series": "ATIM", "hour": 129.0, "temp": 9.28},
      {"series": "ATIM", "hour": 130.4, "temp": 9.06},
      {"series": "ATIM", "hour": 132.2, "temp": 8.94},
      {"series": "ATIM", "hour": 133.4, "temp": 8.78},
      {"series": "ATIM", "hour": 134.5, "temp": 8.84},
      {"series": "ATIM", "hour": 136.4, "temp": 8.61},
      {"series": "ATIM", "hour": 138.4, "temp": 8.52},
      {"series": "ATIM", "hour": 139.5, "temp": 8.55},
      {"series": "ATIM", "hour": 141.4, "temp": 8.39},
      {"series": "ATIM", "hour": 142.5, "temp": 8.27},
      {"series": "ATIM", "hour": 144.2, "temp": 8.25},
      {"series": "ATIM", "hour": 145.3, "temp": 8.18},
      {"series": "ATIM", "hour": 146.5, "temp": 8.03},
      {"series": "ATIM", "hour": 148.5, "temp": 8.03},
      {"series": "ATIM", "hour": 149.5, "temp": 7.83},
      {"series": "ATIM", "hour": 151.3, "temp": 7.83},
      {"series": "ATIM", "hour": 152.5, "temp": 7.8},
      {"series": "ATIM", "hour": 153.4, "temp": 7.68},
      {"series": "ATIM", "hour": 154.4, "temp": 7.66},
      {"series": "ATIM", "hour": 155.4, "temp": 7.77},
      {"series": "ATIM", "hour": 156.5, "temp": 7.6},
      {"series": "ATIM", "hour": 158.4, "temp": 7.61},
      {"series": "ATIM", "hour": 159.4, "temp": 7.52},
      {"series": "ATIM", "hour": 160.4, "temp": 7.52},
      {"series": "ATIM", "hour": 161.4, "temp": 7.46},
      {"series": "ATIM", "hour": 162.5, "temp": 7.38},
      {"series": "ATIM", "hour": 163.5, "temp": 7.32},
      {"series": "ATIM", "hour": 164.4, "temp": 7.34},
      {"series": "ATIM", "hour": 165.5, "temp": 7.3},
      {"series": "ATIM", "hour": 166.4, "temp": 7.32},
      {"series": "ATIM", "hour": 167.6, "temp": 7.16}
    ]
  },
  "layer": [
    {
      "mark": {"type": "line", "strokeWidth": 4},
      "encoding": {
        "x": {
          "field": "hour",
          "type": "quantitative",
          "scale": {"domain": [0, 168], "nice": false, "zero": false},
          "axis": {
            "values": [0, 24, 48, 72, 96, 120, 144, 168],
            "tickSize": -23,
            "labelExpr": "'January' + (11 + datum.value / 24)",
            "labelFontSize": 39,
            "labelBaseline": "alphabetic",
            "labelPadding": 79,
            "labelFlush": false,
            "labelOverlap": false,
            "title": "Time",
            "titleFontSize": 61,
            "titleX": 751,
            "titleY": 118,
            "titleBaseline": "alphabetic",
            "titleAlign": "center"
          }
        },
        "y": {
          "field": "temp",
          "type": "quantitative",
          "scale": {"domain": [-5, 25], "nice": false, "zero": false},
          "axis": {
            "values": [-5, 0, 5, 10, 15, 20, 25],
            "tickSize": -23,
            "labelExpr": "'' + datum.value",
            "labelFontSize": 39,
            "labelPadding": 51,
            "labelFlush": false,
            "labelOverlap": false,
            "title": "Temperature（°C）",
            "titleFontSize": 63,
            "titleAngle": 270,
            "titleX": -95,
            "titleY": 622,
            "titleBaseline": "alphabetic",
            "titleAlign": "center"
          }
        },
        "color": {
          "field": "series",
          "type": "nominal",
          "sort": ["Environment temperature", "Brick", "AAC", "ATIM"],
          "scale": {
            "domain": ["Environment temperature", "Brick", "AAC", "ATIM"],
            "range": ["#4a4a4a", "#ff3838", "#0a6be0", "#00aa66"]
          },
          "legend": {
            "orient": "none",
            "legendX": 908,
            "legendY": 41,
            "title": null,
            "padding": 0,
            "symbolType": "M-1.72,0L1.72,0",
            "symbolSize": 3600,
            "symbolStrokeWidth": 4,
            "labelFont": "Liberation Serif",
            "labelFontSize": 50,
            "labelColor": "black",
            "labelOffset": 32,
            "labelLimit": 900,
            "rowPadding": 5
          }
        }
      }
    },
    {
      "mark": {"type": "line", "opacity": 0},
      "encoding": {
        "x": {
          "field": "hour",
          "type": "quantitative",
          "scale": {"domain": [0, 168], "nice": false, "zero": false},
          "axis": {
            "orient": "bottom",
            "values": [12, 36, 60, 84, 108, 132, 156],
            "tickSize": -11,
            "labels": false,
            "domain": false,
            "title": null
          }
        },
        "y": {
          "field": "temp",
          "type": "quantitative",
          "scale": {"domain": [-5, 25], "nice": false, "zero": false},
          "axis": {
            "orient": "left",
            "values": [-2.5, 2.5, 7.5, 12.5, 17.5, 22.5],
            "tickSize": -11,
            "labels": false,
            "domain": false,
            "title": null
          }
        },
        "detail": {"field": "series", "type": "nominal"}
      }
    }
  ],
  "resolve": {"axis": {"x": "independent", "y": "independent"}}
}
